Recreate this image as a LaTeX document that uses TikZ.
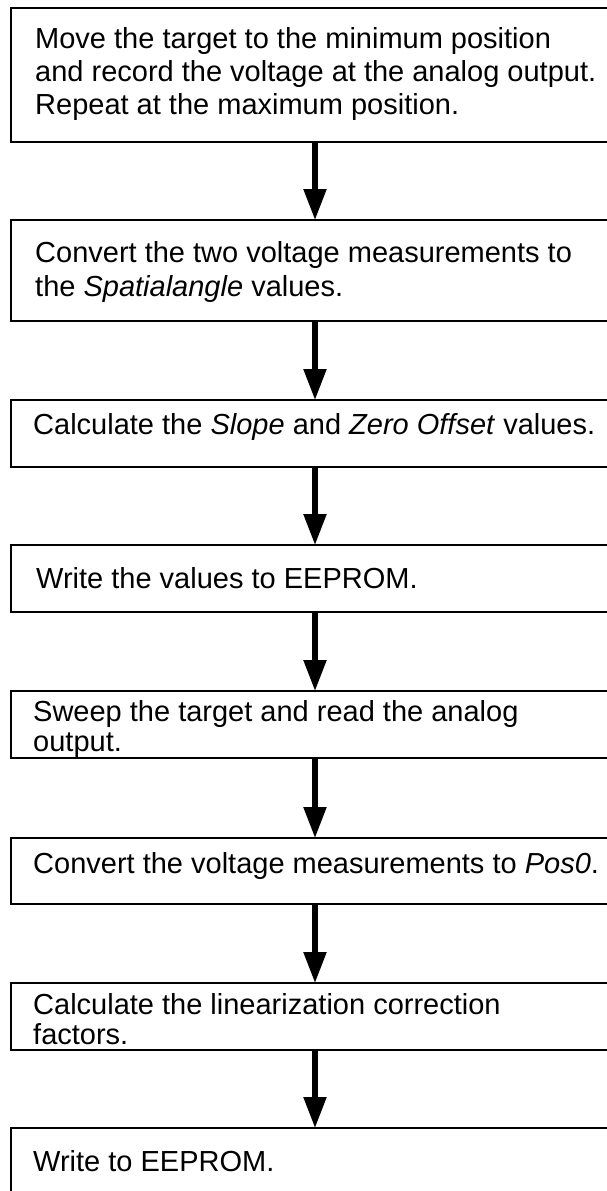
\documentclass[tikz,border=0pt]{standalone}
\usepackage{fontspec}
\setmainfont{Liberation Sans}
\usetikzlibrary{arrows.meta}
\begin{document}
\begin{tikzpicture}[x=1pt,y=-1pt,
  stepbox/.style={draw=black,line width=2pt,rectangle,inner sep=0pt,outer sep=0pt,anchor=north west,minimum width=614pt},
  steptext/.style={anchor=base west,inner sep=0pt,font=\fontsize{29}{33}\selectfont,align=left},
  arr/.style={line width=5.3pt,-{Triangle[width=22pt,length=31pt]}}]
\useasboundingbox (0,0) rectangle (607,1191);
\clip (0,0) rectangle (607,1191);
\coordinate (col) at (315,0);
\node[stepbox,minimum height=134pt] (b1) at (11,8) {};
\node[stepbox,minimum height=101pt] (b2) at (11,220) {};
\node[stepbox,minimum height=67pt] (b3) at (11,400) {};
\node[stepbox,minimum height=67pt] (b4) at (11,545) {};
\node[stepbox,minimum height=67pt] (b5) at (11,691) {};
\node[stepbox,minimum height=66pt] (b6) at (11,838) {};
\node[stepbox,minimum height=67pt] (b7) at (11,983) {};
\node[stepbox,minimum height=80pt] (b8) at (11,1128) {};
\node[steptext] (t1a) at (35,48) {Move the target to the minimum position};
\node[steptext] (t1b) at (35,81) {and record the voltage at the analog output.};
\node[steptext] (t1c) at (35,114) {Repeat at the maximum position.};
\node[steptext] (t2a) at (35,262) {Convert the two voltage measurements to};
\node[steptext] (t2b) at (35,296) {the \textit{Spatialangle} values.};
\node[steptext] (t3) at (33,434) {Calculate the \textit{Slope} and \textit{Zero Offset} values.};
\node[steptext] (t4) at (36,588) {Write the values to EEPROM.};
\node[steptext] (t5a) at (33,721) {Sweep the target and read the analog};
\node[steptext] (t5b) at (33,751) {output.};
\node[steptext] (t6) at (33,873) {Convert the voltage measurements to \textit{Pos0}.};
\node[steptext] (t7a) at (33,1014) {Calculate the linearization correction};
\node[steptext] (t7b) at (33,1044) {factors.};
\node[steptext] (t8) at (33,1171) {Write to EEPROM.};
\draw[arr] (b1.south -| col) -- (b2.north -| col);
\draw[arr] (b2.south -| col) -- (b3.north -| col);
\draw[arr] (b3.south -| col) -- (b4.north -| col);
\draw[arr] (b4.south -| col) -- (b5.north -| col);
\draw[arr] (b5.south -| col) -- (b6.north -| col);
\draw[arr] (b6.south -| col) -- (b7.north -| col);
\draw[arr] (b7.south -| col) -- (b8.north -| col);
\end{tikzpicture}
\end{document}
